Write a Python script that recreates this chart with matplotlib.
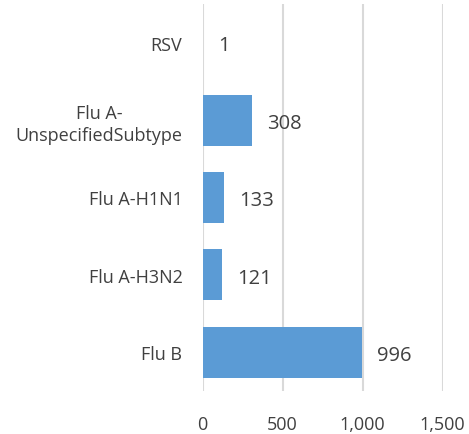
import matplotlib as mpl
import matplotlib.pyplot as plt

mpl.rcParams['font.family'] = ['Open Sans', 'DejaVu Sans']

categories = ['RSV', 'Flu A-\nUnspecifiedSubtype', 'Flu A-H1N1', 'Flu A-H3N2', 'Flu B']
counts = [1, 308, 133, 121, 996]
xticks = [0, 500, 1000, 1500]
xtick_labels = ['0', '500', '1,000', '1,500']

bar_color = '#5B9BD5'
grid_color = '#D9D9D9'
text_color = '#404040'

fig = plt.figure(figsize=(4.69, 4.35), dpi=100)
ax = fig.add_axes([0.4318, 0.099, 0.5117, 0.8895])

ypos = list(range(len(categories)))
ax.barh(ypos, counts, height=0.66, color=bar_color, zorder=3)

# value labels
for y, v in zip(ypos, counts):
    ax.annotate(f'{v:,}', (v, y), xytext=(11, -2), textcoords='offset points',
                ha='left', va='center', fontsize=14.5, color=text_color)

ax.set_xlim(0, 1500)
ax.set_ylim(len(categories) - 0.5, -0.5)
ax.set_xticks(xticks)
ax.set_xticklabels(xtick_labels)
ax.set_yticks(ypos)
ax.set_yticklabels(categories, ha='right', multialignment='center',
                   linespacing=1.25)

for spine in ['top', 'bottom', 'right', 'left']:
    ax.spines[spine].set_visible(False)
ax.grid(axis='x', color=grid_color, lw=1.5, zorder=0)
ax.tick_params(axis='both', length=0, labelsize=13, labelcolor=text_color)
ax.tick_params(axis='x', pad=17)
ax.tick_params(axis='y', pad=14.5)

plt.savefig('out.png', dpi=100)
